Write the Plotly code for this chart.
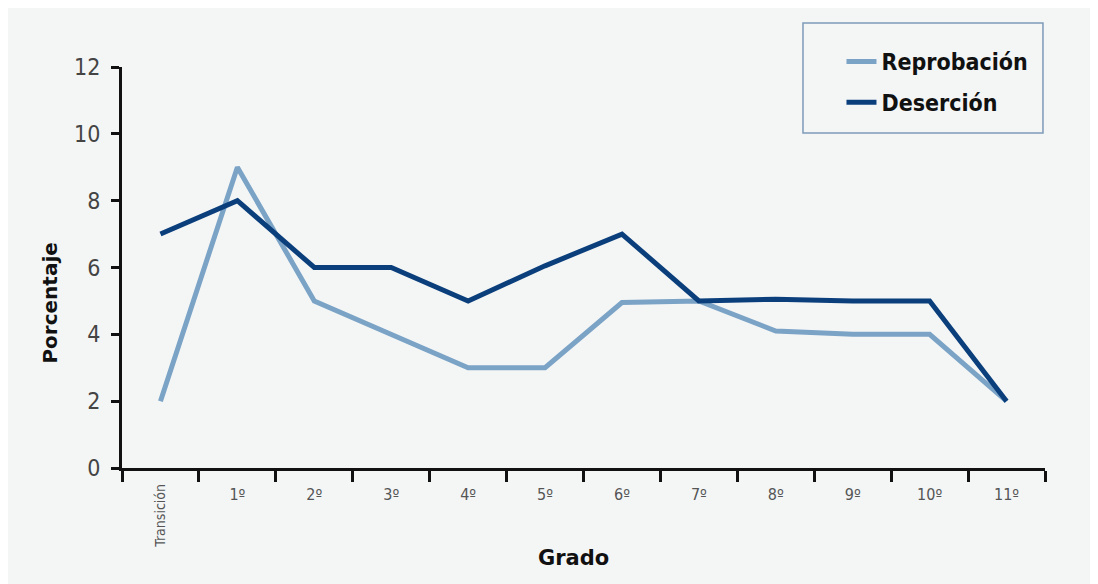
import plotly.graph_objects as go

categorias = ["Transición", "1º", "2º", "3º", "4º", "5º", "6º", "7º", "8º", "9º", "10º", "11º"]
reprobacion = [2, 9, 5, 4, 3, 3, 4.95, 5, 4.1, 4, 4, 2]
desercion = [7, 8, 6, 6, 5, 6.05, 7, 5, 5.05, 5, 5, 2]
y_ticks = [0, 2, 4, 6, 8, 10, 12]

BG = "#f4f6f6"
C_REP = "#7ba3c6"
C_DES = "#0b3f7c"
NARROW = "DejaVu Sans Condensed, Liberation Sans Narrow, sans-serif"
BOLD = "DejaVu Sans, sans-serif"

fig = go.Figure()
fig.add_trace(go.Scatter(x=categorias, y=reprobacion, mode="lines", name="Reprobación",
                         line=dict(color=C_REP, width=5), legendgroup="a"))
fig.add_trace(go.Scatter(x=categorias, y=desercion, mode="lines", name="Deserción",
                         line=dict(color=C_DES, width=5), legendgroup="b"))

ticktext = [""] + categorias[1:]

fig.update_layout(
    width=1098, height=584,
    paper_bgcolor=BG, plot_bgcolor=BG,
    margin=dict(l=114, r=61, t=59, b=124, autoexpand=False),
    showlegend=True,
    legend=dict(x=0.7795, y=1.0675, xanchor="left", yanchor="top",
                bgcolor="rgba(0,0,0,0)", borderwidth=0,
                font=dict(family=NARROW, size=23, color="#111", weight="bold"),
                tracegroupgap=8, traceorder="grouped"),
    xaxis=dict(type="category", range=[-0.5, len(categorias) - 0.5],
               tickvals=categorias, ticktext=ticktext, tickson="boundaries",
               showgrid=False, zeroline=False, showline=True, linecolor="#111", linewidth=3,
               ticks="outside", ticklen=11, tickwidth=3, tickcolor="#111",
               ticklabelstandoff=10,
               tickfont=dict(family=NARROW, size=16, color="#555")),
    yaxis=dict(range=[0, 12], tickvals=y_ticks, showgrid=False, zeroline=False,
               showline=True, linecolor="#111", linewidth=3,
               ticks="outside", ticklen=8, tickwidth=3, tickcolor="#111",
               ticklabelstandoff=6,
               tickfont=dict(family=NARROW, size=23, color="#444")),
    shapes=[dict(type="rect", xref="paper", yref="paper",
                 x0=0.7378, x1=0.9978, y0=0.8354, y1=1.1097,
                 line=dict(color="#7d9ab8", width=1.5), fillcolor="rgba(0,0,0,0)")],
    annotations=[
        dict(text="Porcentaje", xref="paper", yref="paper", x=-0.078, y=0.41,
             textangle=-90, showarrow=False,
             font=dict(family=BOLD, size=20, color="#111", weight="bold"),
             xanchor="center", yanchor="middle"),
        dict(text="Grado", xref="paper", yref="paper", x=0.489, y=-0.225,
             showarrow=False, font=dict(family=BOLD, size=21, color="#111", weight="bold"),
             xanchor="center", yanchor="middle"),
        dict(text=categorias[0], xref="x", yref="paper", x=categorias[0], y=-0.033,
             textangle=-90, showarrow=False, font=dict(family=NARROW, size=14, color="#555"),
             xanchor="center", yanchor="top"),
    ],
)

fig.write_html("out.html")
